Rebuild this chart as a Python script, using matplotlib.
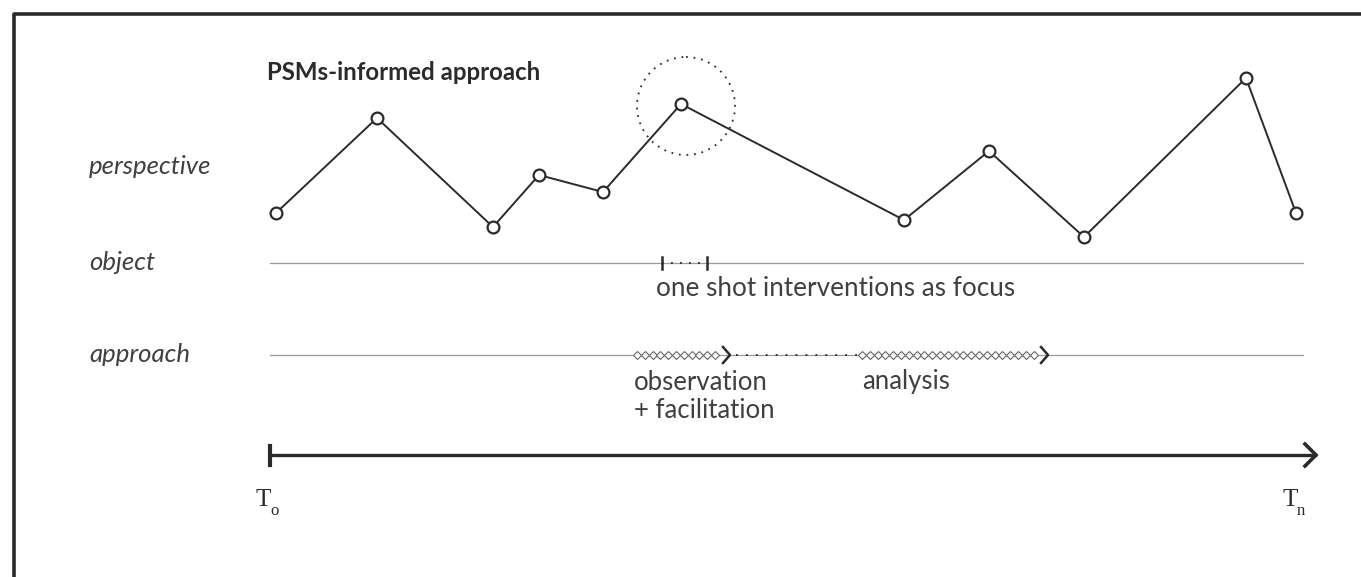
import numpy as np
import matplotlib.pyplot as plt
from matplotlib.patches import Circle

# perspective curve (x = time position, y = vertical position in px)
time_x = [276, 377, 493, 539, 603, 681, 904, 989, 1084, 1246, 1296]
perspective_y = [213, 118, 227, 175, 192, 104, 220, 151, 237, 78, 213]

row_labels = ['perspective', 'object', 'approach']
row_y = [167, 263, 355]

t_start, t_end = 270, 1303
focus = (662, 707)
observation = (637, 730)
analysis = (862, 1048)

ink = '#2b2b2b'
txt = '#404040'
grey = '#9a9a9a'
sans = 'Lato'

fig = plt.figure(figsize=(13.61, 5.77), dpi=100)
ax = fig.add_axes([0, 0, 1, 1])
ax.set_xlim(0, 1361)
ax.set_ylim(577, 0)
ax.axis('off')

# frame (open on right and bottom)
ax.plot([14, 14, 1361], [577, 14, 14], color=ink, lw=2.6, solid_capstyle='butt')

ax.text(267, 72, 'PSMs-informed approach', fontsize=17.3, fontweight='bold',
        family=sans, color=ink, va='center')

for lab, y in zip(row_labels, row_y):
    ax.text(89, y, lab, fontsize=18.5, style='italic', family=sans,
            color=txt, va='center')

# perspective line
ax.plot(time_x, perspective_y, color=ink, lw=1.4, zorder=2)
ax.plot(time_x, perspective_y, 'o', ms=8.5, mfc='white', mec=ink, mew=1.6, zorder=3)
ax.add_patch(Circle((686, 106), 49, fill=False, ls=(0, (1, 3.2)), lw=1.3, ec=ink))

# object row
ax.plot([t_start, t_end], [263, 263], color=grey, lw=0.9)
for fx in focus:
    ax.plot([fx, fx], [257, 269], color=ink, lw=1.8)
ax.plot(focus, [263, 263], color=ink, lw=1.3, ls=(0, (1, 4)))
ax.text(656, 289, 'one shot interventions as focus', fontsize=18.8, family=sans,
        color=txt, va='center')

# approach row
ax.plot([t_start, t_end], [355, 355], color=grey, lw=0.9)
for a, b in [observation, analysis]:
    xs = np.arange(a, b - 8, 7.8)
    ax.plot(xs, np.full(len(xs), 355), 'D', ms=4, mfc='white', mec='#666666',
            mew=0.8, zorder=3)
    ax.plot([b - 7, b, b - 7], [347, 355, 363], color=ink, lw=1.8, zorder=4)
ax.plot([observation[1] + 6, analysis[0] - 4], [355, 355], color=ink, lw=1.3,
        ls=(0, (1, 4.5)))
for s, x, y in [('observation', 634, 382), ('+ facilitation', 634, 410),
                ('analysis', 862, 382)]:
    ax.text(x, y, s, fontsize=18.5, family=sans, color=txt, va='center')

# time axis
ax.plot([t_start, 1315], [455, 455], color=ink, lw=2.4)
ax.plot([t_start, t_start], [446, 465], color=ink, lw=3)
ax.plot([1305, 1316, 1305], [444, 455, 466], color=ink, lw=2.6,
        solid_joinstyle='miter')
ax.text(256, 500, 'T', fontsize=18, family='Liberation Serif', color=ink, va='center')
ax.text(270, 511, 'o', fontsize=12, family='Liberation Serif', color=ink, va='center')
ax.text(1283, 500, 'T', fontsize=18, family='Liberation Serif', color=ink, va='center')
ax.text(1297, 511, 'n', fontsize=12, family='Liberation Serif', color=ink, va='center')

fig.savefig('out.png', dpi=100)
